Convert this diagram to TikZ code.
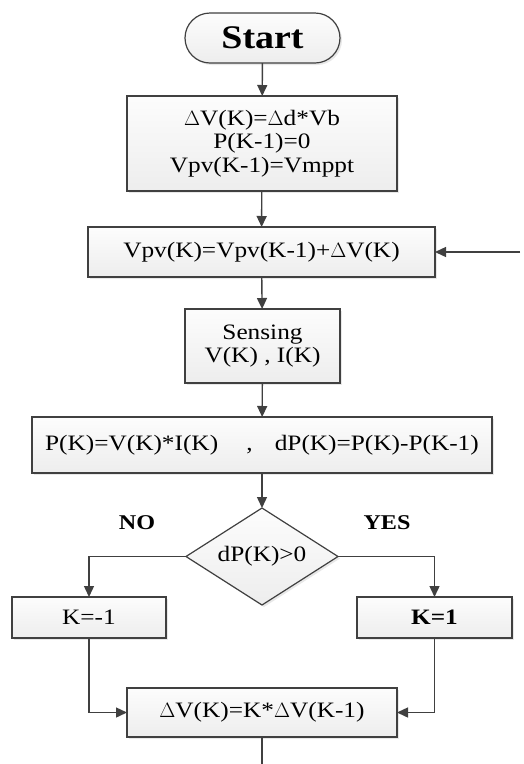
\documentclass[tikz,border=0pt]{standalone}
\usepackage{fontspec}
\setmainfont{Liberation Serif}[FakeStretch=1.15]
\usetikzlibrary{arrows.meta,shapes.geometric,shadows}
\begin{document}
\begin{tikzpicture}[x=1pt,y=-1pt,
  every node/.style={inner sep=0pt,outer sep=0pt,font=\fontsize{22}{23.5}\selectfont,align=center},
  box/.style={draw=black!75,line width=1.2pt,top color=gray!2,bottom color=gray!14,
    drop shadow={opacity=0.18,shadow xshift=2pt,shadow yshift=-2pt}},
  conn/.style={draw=black!75,line width=1.4pt},
  arr/.style={conn,-{Triangle[length=11pt,width=10pt]}},
  lbl/.style={font=\fontsize{21}{24}\selectfont\bfseries}]
\useasboundingbox (0,0) rectangle (524,764);
\node[box,rounded corners=25pt,minimum width=155pt,minimum height=50pt,
  font=\fontsize{33}{36}\selectfont\bfseries] (start) at (262.5,38) {Start};
\node[box,minimum width=270pt,minimum height=95pt] (init) at (262,143.5)
  {$\Delta$V(K)=$\Delta$d*Vb\\P(K-1)=0\\Vpv(K-1)=Vmppt};
\node[box,minimum width=347pt,minimum height=50pt] (upd) at (261.5,252)
  {Vpv(K)=Vpv(K-1)+$\Delta$V(K)};
\node[box,minimum width=155pt,minimum height=74pt] (sense) at (262.5,346)
  {Sensing\\V(K) , I(K)};
\node[box,minimum width=460pt,minimum height=56pt] (pow) at (262,445)
  {P(K)=V(K)*I(K)\quad\ ,\quad dP(K)=P(K)-P(K-1)};
\node[box,diamond,aspect=1.567,minimum width=152pt,minimum height=97pt,
  label=center:{dP(K)>0}] (dec) at (262,556.5) {};
\node[box,minimum width=154pt,minimum height=41pt] (kneg) at (89,617.5) {K=-1};
\node[box,minimum width=155pt,minimum height=41pt,font=\fontsize{22}{24}\selectfont\bfseries] (kpos) at (434.5,617.5) {K=1};
\node[box,minimum width=270pt,minimum height=49pt] (dv) at (262,712.5)
  {$\Delta$V(K)=K*$\Delta$V(K-1)};
\node[lbl] (no) at (137,523) {NO};
\node[lbl] (yes) at (387,523) {YES};
\coordinate (loopin) at (520,252);
\coordinate (outend) at (262,764);
\draw[arr] (start) -- (init);
\draw[arr] (init) -- (upd);
\draw[arr] (upd) -- (sense);
\draw[arr] (sense) -- (pow);
\draw[arr] (pow) -- (dec);
\draw[arr] (dec.west) -| (kneg.north);
\draw[arr] (dec.east) -| (kpos.north);
\draw[arr] (kneg.south) |- (dv.west);
\draw[arr] (kpos.south) |- (dv.east);
\draw[conn] (dv.south) -- (outend);
\draw[arr] (loopin) -- (upd.east);
\end{tikzpicture}
\end{document}
